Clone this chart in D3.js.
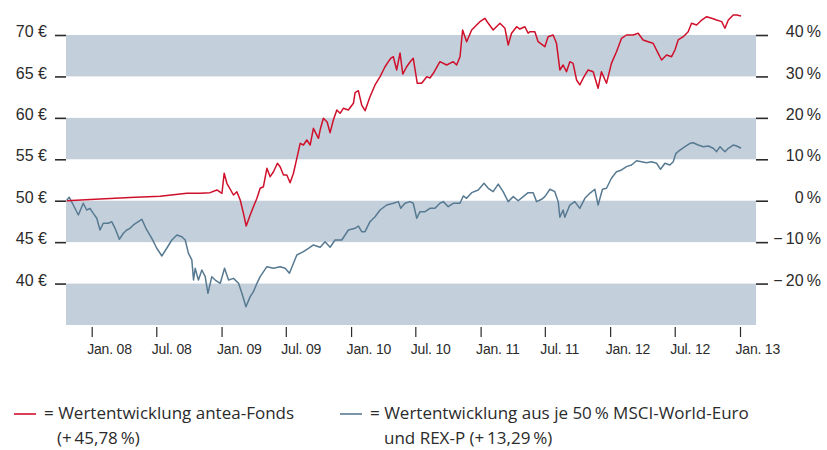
<!DOCTYPE html>
<html><head><meta charset="utf-8">
<script src="https://cdn.jsdelivr.net/npm/d3@7"></script>
<style>
html,body{margin:0;padding:0;background:#fff;}
svg{display:block;font-family:"Open Sans",Lato,sans-serif;}
</style></head>
<body><svg id="c" width="827" height="450"></svg>
<script>
// ---- data (time in decimal years, value in €; start normalised to 50 €) ----
const redT = [2007.807,2008.064,2008.295,2008.527,2008.733,2008.835,2008.912,2008.964,2009.003,2009.020,2009.041,2009.092,2009.118,2009.144,2009.169,2009.190,2009.221,2009.246,2009.273,2009.298,2009.323,2009.350,2009.375,2009.401,2009.431,2009.452,2009.478,2009.504,2009.529,2009.555,2009.581,2009.607,2009.632,2009.658,2009.684,2009.709,2009.748,2009.761,2009.786,2009.815,2009.838,2009.863,2009.890,2009.915,2009.940,2009.979,2010.018,2010.031,2010.056,2010.082,2010.108,2010.146,2010.185,2010.224,2010.262,2010.288,2010.308,2010.326,2010.352,2010.378,2010.399,2010.429,2010.455,2010.480,2010.511,2010.545,2010.584,2010.609,2010.635,2010.686,2010.738,2010.789,2010.815,2010.841,2010.861,2010.892,2010.931,2010.969,2010.995,2011.033,2011.059,2011.097,2011.149,2011.188,2011.213,2011.239,2011.278,2011.303,2011.342,2011.367,2011.380,2011.419,2011.444,2011.496,2011.521,2011.560,2011.586,2011.612,2011.637,2011.663,2011.689,2011.714,2011.741,2011.766,2011.791,2011.830,2011.869,2011.907,2011.933,2011.972,2012.010,2012.049,2012.088,2012.126,2012.177,2012.216,2012.254,2012.293,2012.331,2012.370,2012.396,2012.435,2012.473,2012.499,2012.524,2012.563,2012.601,2012.627,2012.666,2012.705,2012.743,2012.782,2012.820,2012.859,2012.884,2012.910,2012.948,2012.975,2013.008];
const redV = [50.0,50.2,50.4,50.55,50.9,50.9,50.97,51.3,50.9,53.31,52.1,50.69,51.09,50.09,48.48,46.95,48.28,49.28,50.29,51.5,51.69,53.91,52.9,53.5,54.52,54.11,53.1,53.1,52.17,53.31,55.12,56.93,56.72,57.33,56.72,58.74,57.53,58.53,59.95,59.5,58.21,59.74,60.95,60.55,61.15,60.95,61.76,63.04,63.28,61.55,60.86,62.55,63.97,64.97,66.17,66.78,67.22,67.38,65.78,67.83,65.29,66.17,66.74,67.19,64.17,64.17,64.97,64.81,65.38,66.78,66.38,66.78,66.38,67.38,70.6,69.19,70.6,71.21,71.61,72.02,71.41,70.6,71.41,70.81,68.79,70.21,71.0,70.72,71.0,70.21,70.4,70.4,69.19,68.59,69.79,70.0,69.0,65.78,66.38,65.57,66.78,66.58,64.57,63.97,64.77,65.78,65.57,63.57,65.57,64.17,66.58,67.98,69.6,70.0,70.0,70.21,69.4,69.19,69.0,67.79,66.98,67.59,67.38,68.19,69.4,69.79,70.4,71.41,71.21,71.81,72.21,72.02,71.81,71.61,70.81,71.81,72.41,72.41,72.29];

const blueT = [2007.807,2007.827,2007.858,2007.897,2007.935,2007.961,2007.987,2008.012,2008.039,2008.064,2008.089,2008.128,2008.154,2008.180,2008.213,2008.244,2008.270,2008.295,2008.321,2008.359,2008.386,2008.424,2008.463,2008.501,2008.540,2008.578,2008.617,2008.656,2008.694,2008.720,2008.745,2008.771,2008.784,2008.797,2008.822,2008.848,2008.874,2008.895,2008.925,2008.951,2008.990,2009.023,2009.054,2009.092,2009.131,2009.157,2009.188,2009.221,2009.246,2009.273,2009.298,2009.350,2009.401,2009.452,2009.491,2009.524,2009.555,2009.581,2009.632,2009.671,2009.709,2009.761,2009.799,2009.838,2009.876,2009.928,2009.979,2010.031,2010.056,2010.082,2010.108,2010.146,2010.185,2010.224,2010.275,2010.326,2010.365,2010.383,2010.416,2010.455,2010.480,2010.507,2010.532,2010.571,2010.609,2010.648,2010.686,2010.712,2010.750,2010.789,2010.841,2010.866,2010.892,2010.931,2010.982,2011.026,2011.059,2011.097,2011.136,2011.174,2011.213,2011.252,2011.290,2011.329,2011.367,2011.406,2011.432,2011.471,2011.496,2011.535,2011.573,2011.599,2011.612,2011.637,2011.650,2011.689,2011.727,2011.766,2011.805,2011.843,2011.882,2011.907,2011.941,2011.972,2012.010,2012.049,2012.088,2012.126,2012.165,2012.203,2012.242,2012.280,2012.319,2012.358,2012.388,2012.422,2012.460,2012.486,2012.507,2012.538,2012.576,2012.615,2012.640,2012.678,2012.717,2012.756,2012.794,2012.820,2012.846,2012.884,2012.910,2012.948,2012.975,2013.008];
const blueV = [50.08,50.41,49.48,48.28,49.69,48.88,49.08,48.48,47.88,46.47,47.28,47.28,47.47,46.67,45.34,46.07,46.47,46.67,47.07,47.47,47.76,46.47,45.46,44.26,43.33,44.26,45.26,45.86,45.66,45.26,43.65,42.85,40.43,41.84,40.43,41.64,40.83,38.83,40.83,40.43,40.03,41.84,40.43,40.63,40.03,38.83,37.21,38.42,39.02,40.03,40.83,42.04,41.84,42.04,41.84,41.24,42.45,43.45,43.85,44.26,44.66,44.38,45.05,44.38,45.26,45.26,46.47,46.67,46.95,46.26,46.26,47.47,48.07,48.88,49.48,49.69,49.89,49.08,49.69,49.89,49.69,47.88,48.68,48.68,49.08,49.08,49.69,49.89,49.28,49.69,49.69,50.57,50.29,50.97,51.3,52.1,51.5,51.09,52.01,51.09,49.89,50.49,50.0,50.49,50.97,50.97,49.89,50.17,50.49,51.38,51.09,49.89,48.0,48.88,48.0,49.48,49.89,49.08,50.29,50.89,51.38,49.48,51.38,51.5,52.71,53.5,53.71,54.11,54.31,54.83,54.71,54.59,54.71,54.52,53.79,54.52,54.31,54.71,55.72,56.12,56.52,56.93,57.0,56.72,56.52,56.6,56.33,55.92,56.52,55.92,56.33,56.72,56.6,56.33];

const euroTicks = [40,45,50,55,60,65,70];
const pctTicks = [-20,-10,0,10,20,30,40];
const bandRanges = [[65,70],[55,60],[45,50],[35,40]];
const xTickLabels = ["Jan. 08","Jul. 08","Jan. 09","Jul. 09","Jan. 10","Jul. 10","Jan. 11","Jul. 11","Jan. 12","Jul. 12","Jan. 13"];
const legendItems = [
  {name:"red", lines:["= Wertentwicklung antea-Fonds","(+\u200945,78\u2009%)"]},
  {name:"blue", lines:["= Wertentwicklung aus je 50\u2009% MSCI-World-Euro","und REX-P (+\u200913,29\u2009%)"]}
];

// ---- layout ----
const COL = {red:"#d0102b", blue:"#577a92", band:"#c3d0db", ink:"#2b2b2b"};
const plotL = 66, plotR = 756, plotB = 325, plotT = 35;

function toDate(t){const y=Math.floor(t);const s=new Date(y,0,1).getTime(),e=new Date(y+1,0,1).getTime();return new Date(s+(t-y)*(e-s));}

const x = d3.scaleTime().domain([new Date(2008,0,1), new Date(2013,0,1)]).range([91.7, 740]);
const y = d3.scaleLinear().domain([35,70]).range([plotB, plotT]);
const yPct = d3.scaleLinear().domain([-30,40]).range([plotB, plotT]);

const svg = d3.select("#c");

// bands
svg.append("g").selectAll("rect").data(bandRanges).join("rect")
  .attr("x", plotL).attr("width", plotR-plotL)
  .attr("y", d=>y(d[1])).attr("height", d=>y(d[0])-y(d[1]))
  .attr("fill", COL.band);

// left axis
const gl = svg.append("g").attr("transform", `translate(${plotL},0)`)
  .call(d3.axisLeft(y).tickValues(euroTicks).tickSize(11).tickPadding(8).tickFormat(d=>d+" €"));
gl.select(".domain").remove();
gl.selectAll("line").attr("stroke", COL.ink).attr("stroke-width",1.6);
gl.selectAll("text").attr("fill", COL.ink).style("font-size","16px").attr("dy","0.1em");

// right axis
const gr = svg.append("g").attr("transform", `translate(${plotR},0)`)
  .call(d3.axisRight(yPct).tickValues(pctTicks).tickSize(12).tickPadding(6)
    .tickFormat(d=> (d<0? "\u2212\u2009"+Math.abs(d) : d) + "\u2009%"));
gr.select(".domain").remove();
gr.selectAll("line").attr("stroke", COL.ink).attr("stroke-width",1.6);
gr.selectAll("text").attr("fill", COL.ink).style("font-size","16px").attr("dy","0.1em")
  .attr("text-anchor","end").attr("x", 821-plotR);

// bottom axis
const xt = d3.timeMonth.every(6).range(new Date(2008,0,1), new Date(2013,0,2));
const gb = svg.append("g").attr("transform", `translate(0,327)`)
  .call(d3.axisBottom(x).tickValues(xt).tickSize(10).tickPadding(7).tickFormat((d,i)=>xTickLabels[i]));
gb.select(".domain").remove();
gb.selectAll("line").attr("stroke", COL.ink).attr("stroke-width",1.2);
gb.selectAll("text").attr("fill", COL.ink).style("font-size","14px").style("letter-spacing","-0.2px")
  .attr("text-anchor","start").attr("x",-5);

// lines
const line = d3.line().x(d=>x(d.date)).y(d=>y(d.v));
const redData = redT.map((t,i)=>({date:toDate(t), v:redV[i]}));
const blueData = blueT.map((t,i)=>({date:toDate(t), v:blueV[i]}));
svg.append("path").datum(blueData).attr("d", line).attr("fill","none")
  .attr("stroke", COL.blue).attr("stroke-width",1.5).attr("stroke-linejoin","round");
svg.append("path").datum(redData).attr("d", line).attr("fill","none")
  .attr("stroke", COL.red).attr("stroke-width",1.5).attr("stroke-linejoin","round");

// legend
const legX = [14, 340];
const lg = svg.append("g").selectAll("g").data(legendItems).join("g")
  .attr("transform",(d,i)=>`translate(${legX[i]},0)`);
lg.append("line").attr("x1",0).attr("x2",22).attr("y1",414).attr("y2",414)
  .attr("stroke",d=>COL[d.name]).attr("stroke-width",1.6);
lg.each(function(d){
  const g = d3.select(this);
  g.append("text").attr("x",30).attr("y",419).text(d.lines[0]);
  g.append("text").attr("x", d.name==="red"?43:44).attr("y",444).text(d.lines[1]);
});
lg.selectAll("text").attr("fill", COL.ink).style("font-size","17px");
</script></body></html>
